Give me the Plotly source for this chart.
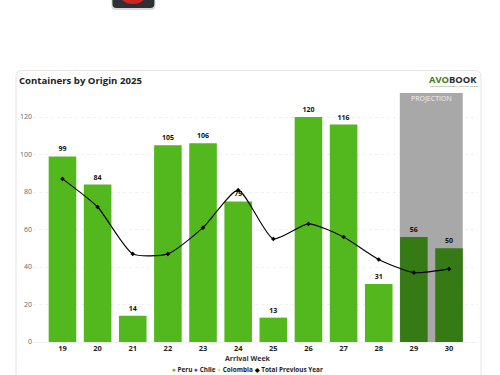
import plotly.graph_objects as go

weeks = ["19", "20", "21", "22", "23", "24", "25", "26", "27", "28", "29", "30"]
peru = [99, 84, 14, 105, 106, 75, 13, 120, 116, 31, 56, 50]
previous_year = [87, 72, 47, 47, 61, 81, 55, 63, 56, 44, 37, 39]
bar_colors = ["#53b71e"] * 10 + ["#357a14"] * 2
y_ticks = [0, 20, 40, 60, 80, 100, 120]
legend_names = ["Peru", "Chile", "Colombia", "Total Previous Year"]
legend_symbols = ["●", "●", "●", "◆"]
legend_colors = ["#53b71e", "#7b1fa2", "#f5e642", "#000000"]

W, H = 500, 375
L, R, T, AXIS_BOTTOM = 32.5, 22, 93, 342
FONT = "Open Sans"
PLOT_H = H - T
Y_MAX = 132.8


def px(v):
    return (v - L) / (W - L - R)


def py(v):
    return (H - v) / PLOT_H


fig = go.Figure()
fig.add_trace(go.Bar(
    x=weeks, y=peru, width=0.785, marker=dict(color=bar_colors, line_width=0),
    text=peru, textposition="outside", cliponaxis=False,
    textfont=dict(family=FONT, size=7, color="#111111", weight="bold"),
    hoverinfo="x+y", name="Peru",
))
fig.add_trace(go.Scatter(
    x=weeks, y=previous_year, mode="lines+markers", name="Total Previous Year",
    line=dict(color="#000000", width=1.1, shape="spline", smoothing=0.6),
    marker=dict(color="#000000", size=3.5, symbol="diamond"),
))


def rounded_card(x0, y0, x1, y1, r):
    path = (f"M {px(x0)} {py(y1)} L {px(x0)} {py(y0 + r)} "
            f"Q {px(x0)} {py(y0)} {px(x0 + r)} {py(y0)} "
            f"L {px(x1 - r)} {py(y0)} Q {px(x1)} {py(y0)} {px(x1)} {py(y0 + r)} "
            f"L {px(x1)} {py(y1)}")
    return dict(type="path", xref="paper", yref="paper", path=path,
                line=dict(color="#e4e4e4", width=1), layer="below")


def rounded_icon(x0, y0, x1, y1, r, color):
    path = (f"M {px(x0)} {py(y0)} L {px(x0)} {py(y1 - r)} "
            f"Q {px(x0)} {py(y1)} {px(x0 + r)} {py(y1)} "
            f"L {px(x1 - r)} {py(y1)} Q {px(x1)} {py(y1)} {px(x1)} {py(y1 - r)} "
            f"L {px(x1)} {py(y0)} Z")
    return dict(type="path", xref="paper", yref="paper", path=path,
                fillcolor=color, line_width=0, layer="above")


shapes = [
    rounded_card(15.5, 70.5, 481, 376, 6),
    # projection band, above the grid and below the bars
    dict(type="rect", xref="x", yref="y", x0=9.6, x1=11.39, y0=0, y1=Y_MAX,
         fillcolor="#a8a8a8", line_width=0, layer="between"),
    # cropped icon at the top of the page
    rounded_icon(111, -2, 155, 10, 4, "#d8d8d8"),
    rounded_icon(112, -2, 154, 8, 4, "#2e3036"),
    dict(type="circle", xref="paper", yref="paper",
         x0=px(118), x1=px(147), y0=py(4), y1=py(-20),
         fillcolor="#c9281c", line_width=0, layer="above"),
]

legend_text = " ".join(
    f"<span style='color:{c}'>{s}</span> {n}"
    for s, c, n in zip(legend_symbols, legend_colors, legend_names)
)

annotations = [
    dict(x=px(16), y=py(80), text="<b>Containers by Origin 2025</b>", showarrow=False,
         xref="paper", yref="paper", xanchor="left", yanchor="middle",
         font=dict(family=FONT, size=9.6, color="#222222")),
    dict(x=10.495, xref="x", y=py(98.5), yref="paper", text="PROJECTION",
         showarrow=False, xanchor="center", yanchor="middle",
         font=dict(family=FONT, size=7, color="#f2f2f2")),
    dict(x=px(427), y=py(79.5), xref="paper", yref="paper", showarrow=False,
         text="<b><span style='color:#3f7d20'>AVO</span><span style='color:#2a2a2a'>BOOK</span></b>",
         xanchor="left", yanchor="middle", font=dict(family=FONT, size=9.4)),
    dict(x=px(428), y=py(86.5), xref="paper", yref="paper", showarrow=False,
         text="CONNECTING THE GLOBAL AVOCADO INDUSTRY",
         xanchor="left", yanchor="middle", font=dict(family=FONT, size=2.2, color="#3f7d20")),
    dict(x=px(247), y=py(369), xref="paper", yref="paper", showarrow=False,
         text=f"<b>{legend_text}</b>", xanchor="center", yanchor="middle",
         font=dict(family=FONT, size=6.4, color="#222222")),
    dict(x=px(248), y=py(358), xref="paper", yref="paper", showarrow=False,
         text="<b>Arrival Week</b>", xanchor="center", yanchor="middle",
         font=dict(family=FONT, size=7, color="#333333")),
]

fig.update_layout(
    width=W, height=H,
    margin=dict(l=L, r=R, t=T, b=0, pad=0, autoexpand=False),
    paper_bgcolor="#ffffff", plot_bgcolor="#ffffff",
    shapes=shapes, annotations=annotations,
    font=dict(family=FONT),
    showlegend=False,
    xaxis=dict(
        type="category", range=[-0.8386, 11.825], showgrid=False, zeroline=False,
        showline=False, ticks="", ticklen=0, anchor="y",
        tickfont=dict(family=FONT, size=7.5, color="#222222", weight="bold"),
    ),
    yaxis=dict(
        domain=[py(AXIS_BOTTOM), 1],
        range=[0, Y_MAX], tickvals=y_ticks, showgrid=True,
        gridcolor="#f0f0f0", griddash="dot", gridwidth=1, zeroline=True,
        zerolinecolor="#f0f0f0", zerolinewidth=1,
        showline=False, ticks="", ticklen=0,
        tickfont=dict(family=FONT, size=7, color="#666666"),
    ),
)

fig.write_html("out.html", post_script="document.body.style.margin='0';",
               config={"displayModeBar": False})
